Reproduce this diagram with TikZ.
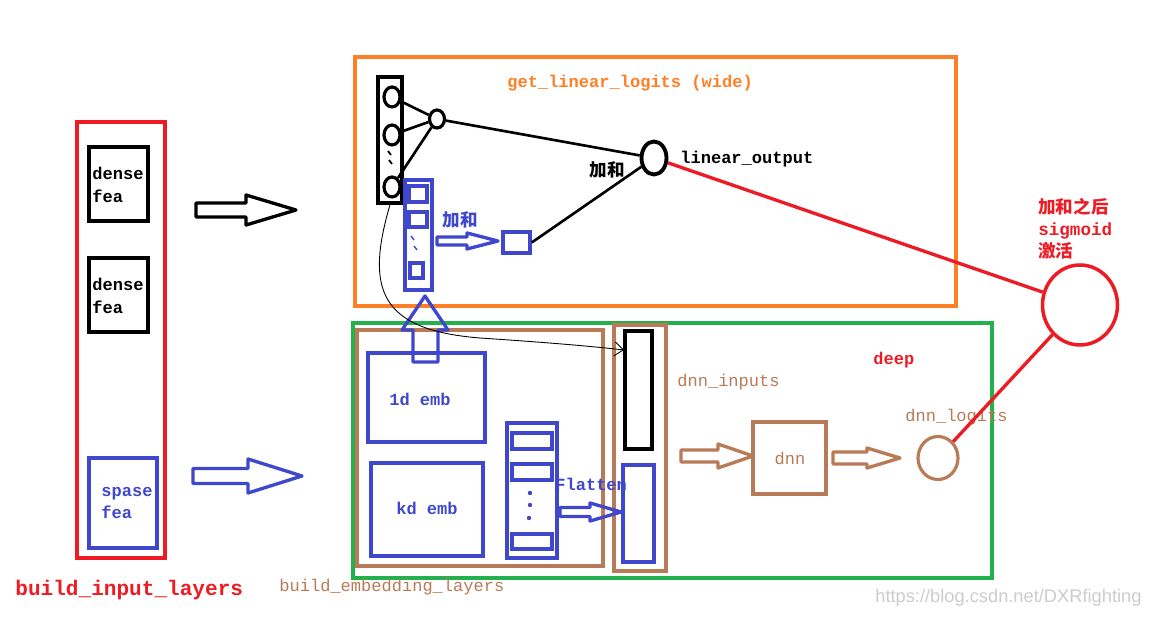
\documentclass[tikz,border=0pt]{standalone}
\usepackage{fontspec}
\setmonofont{Liberation Mono}
\newfontfamily\cjk{Noto Sans CJK SC}
\newfontfamily\wmfont{Liberation Sans}
\usetikzlibrary{fit,shapes.geometric,arrows.meta}
\definecolor{pred}{RGB}{237,28,36}
\definecolor{porange}{RGB}{255,127,39}
\definecolor{pblue}{RGB}{63,72,204}
\definecolor{pgreen}{RGB}{34,177,76}
\definecolor{pbrown}{RGB}{185,122,87}
% horizontal hollow block arrow: colour, x-start, x-head, x-tip, y, shaft half, head half
\newcommand\hblock[7]{\draw[#1,line width=1.9pt,line join=round]
  (#2,#5-#6) -- (#3,#5-#6) -- (#3,#5-#7) -- (#4,#5) -- (#3,#5+#7) -- (#3,#5+#6) -- (#2,#5+#6) -- cycle;}
\begin{document}
\begin{tikzpicture}[x=0.02cm,y=-0.02cm,
  bx/.style={draw, inner sep=0pt, line width=2pt, fit={#1}},
  el/.style={draw, ellipse, inner sep=0pt, line width=1.8pt},
  mono/.style={font=\fontsize{9.7}{13}\selectfont\ttfamily\bfseries, inner sep=0pt, anchor=west, align=left},
  monor/.style={font=\fontsize{9.7}{13}\selectfont\ttfamily, inner sep=0pt, anchor=west, align=left},
  zh/.style={font=\fontsize{10}{13}\selectfont\cjk\bfseries, inner sep=0pt},
  link/.style={line width=1.5pt},
  redlink/.style={pred, line width=1.9pt}]
\useasboundingbox (0,0) rectangle (1160,621);

% ---------- input layers ----------
\node[bx={(77,122) (165,558)}, pred] (inputs) {};
\node[bx={(89,147) (148,221)}] (dense1) {};
\node[bx={(89,258) (148,332)}] (dense2) {};
\node[bx={(89,458) (157,548)}, pblue] (sparse) {};
\node[mono] (t-dense1) at (92,185) {dense\\fea};
\node[mono] (t-dense2) at (92,296) {dense\\fea};
\node[mono, pblue] (t-sparse) at (101,503) {spase\\fea};
\node[font=\fontsize{12}{14}\selectfont\ttfamily\bfseries, inner sep=0pt, anchor=west, pred] (t-inputs) at (15,590) {build\_input\_layers};

\hblock{black}{196}{246}{296}{210}{7}{15}
\hblock{pblue}{193}{248}{302}{476}{7.5}{17}

% ---------- wide part ----------
\node[bx={(355,57) (956,306)}, porange] (wide) {};
\node[mono, porange] (t-wide) at (507,83) {get\_linear\_logits (wide)};

\node[bx={(378,77) (402,203)}] (dvec) {};
\node[el, minimum width=0.32cm, minimum height=0.4cm] (c1) at (392,97) {};
\node[el, minimum width=0.32cm, minimum height=0.4cm] (c2) at (392,135) {};
\node[el, minimum width=0.32cm, minimum height=0.4cm] (c3) at (392,187) {};
\draw[line width=1pt] (388,151) -- (391,155) (389,160) -- (392,164);
\node[el, minimum width=0.3cm, minimum height=0.36cm] (hid) at (437,119) {};
\draw[link] (c1) -- (hid);
\draw[link] (c2) -- (hid);
\draw[link] (c3) -- (hid);
\node[el, line width=2.2pt, minimum width=0.5cm, minimum height=0.66cm] (out) at (654,158) {};
\draw[link] (hid) -- (out);
\node[mono] (t-out) at (680,159) {linear\_output};
\node[zh] (t-sum1) at (607,170) {加和};

\node[bx={(405,180) (432,290)}, pblue] (svec) {};
\node[bx={(409,186) (427,202)}, pblue] (s1) {};
\node[bx={(409,212) (427,227)}, pblue] (s2) {};
\node[bx={(410,263) (423,278)}, pblue] (s3) {};
\draw[pblue, line width=0.8pt] (411,236) -- (414,240) (414,246) -- (417,250);
\hblock{pblue}{437}{467}{498}{241}{4}{8}
\node[zh, pblue] (t-sum2) at (460,220) {加和};
\node[bx={(503,232) (530,253)}, pblue] (sq) {};
\draw[link] (sq.east) -- (out);

% ---------- sigmoid ----------
\node[el, pred, line width=2pt, minimum width=1.5cm, minimum height=1.6cm] (sig) at (1080,305) {};
\draw[redlink] (out) -- (sig);
\node[font=\fontsize{10}{12.5}\selectfont\ttfamily\bfseries, inner sep=0pt, anchor=north west, align=left, pred] (t-sig) at (1038,198) {{\cjk 加和之后}\\sigmoid\\{\cjk 激活}};

% ---------- deep part ----------
\node[bx={(353,323) (992,578)}, pgreen] (deep) {};
\node[bx={(357,330) (603,566)}, pbrown] (embed) {};
\node[bx={(614,325) (666,571)}, pbrown] (dnnin) {};
\node[bx={(625,331) (652,449)}, line width=2.3pt] (dinblack) {};
\node[bx={(623,465) (654,562)}, pblue] (dinblue) {};

\node[bx={(368,353) (485,442)}, pblue] (emb1) {};
\node[mono, pblue, anchor=center] (t-emb1) at (420,399) {1d emb};
\node[bx={(371,463) (483,556)}, pblue] (embk) {};
\node[mono, pblue, anchor=center] (t-embk) at (427,508) {kd emb};

\draw[pblue, line width=1.9pt, line join=round]
  (413,362) -- (413,330) -- (402,330) -- (425,296) -- (448,330) -- (438,330) -- (438,362) -- cycle;

\node[bx={(507,423) (557,558)}, pblue] (stack) {};
\node[bx={(512,433) (552,449)}, pblue] (st1) {};
\node[bx={(512,464) (552,480)}, pblue] (st2) {};
\node[bx={(512,534) (552,549)}, pblue] (st3) {};
\fill[pblue] (530,493) circle[radius=2.2] (530,505) circle[radius=2.2] (529,518) circle[radius=2.2];
\node[mono, pblue] (t-flat) at (555,484) {Flatten};
\hblock{pblue}{560}{590}{621}{512}{4.5}{9}

\coordinate (curveend) at (624,350);
\draw[line width=0.5pt, -{Straight Barb[length=5pt,width=8pt]}] (dvec.south) .. controls (365,290) and (380,330) .. (480,338) .. controls (540,342) and (590,346) .. (curveend);

\node[monor, pbrown] (t-embed) at (279,587) {build\_embedding\_layers};
\node[monor, pbrown] (t-dnnin) at (677,382) {dnn\_inputs};
\node[mono, pred] (t-deep) at (873,360) {deep};

\hblock{pbrown}{681}{718}{753}{456}{6}{12}
\node[bx={(753,422) (826,494)}, pbrown] (dnn) {};
\node[monor, pbrown, anchor=center] (t-dnn) at (790,458) {dnn};
\hblock{pbrown}{833}{867}{900}{458}{6}{10}
\node[el, pbrown, minimum width=0.8cm, minimum height=0.86cm] (logit) at (938,458) {};
\node[monor, pbrown] (t-logit) at (905,417) {dnn\_logits};
\draw[redlink] (logit) -- (sig);

% ---------- watermark ----------
\node[font=\fontsize{10.4}{12}\selectfont\wmfont, inner sep=0pt, anchor=west, gray!40] (wm) at (875,598) {https://blog.csdn.net/DXRfighting};
\end{tikzpicture}
\end{document}
